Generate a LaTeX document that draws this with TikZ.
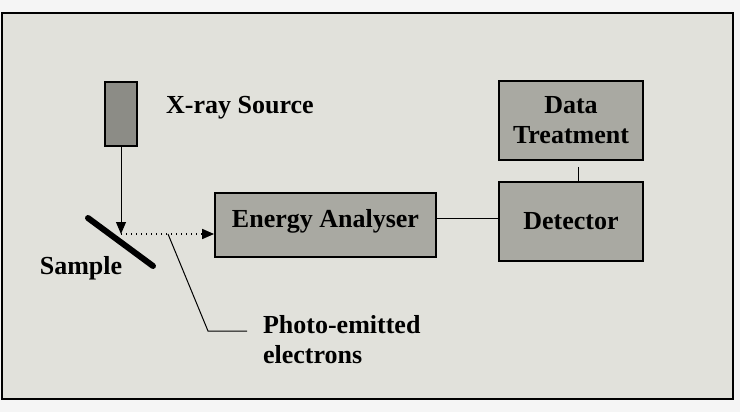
\documentclass[tikz,border=0pt]{standalone}
\usepackage{fontspec}
\setmainfont{Liberation Serif}
\usetikzlibrary{arrows.meta,positioning}
\definecolor{paper}{HTML}{E1E1DB}
\definecolor{boxgray}{HTML}{A9A9A2}
\definecolor{srcgray}{HTML}{8C8C86}

\begin{document}
\begin{tikzpicture}[
    x=0.5pt, y=-0.5pt,
    every node/.style={font=\fontsize{13}{15}\selectfont\bfseries, align=center},
    unit/.style={draw=black, line width=0.9pt, fill=boxgray, inner sep=0pt,
                 minimum width=#1},
    unit/.default=72pt,
    arr/.style={-{Triangle[length=6pt,width=5pt]}, line width=0.5pt},
    link/.style={line width=0.5pt},
    samplebar/.style={line width=3pt, line cap=round},
  ]
  % page and frame
  \useasboundingbox (0,0) rectangle (740,412);
  \fill[white!96!black] (0,0) rectangle (740,412);
  \draw[fill=paper, line width=0.8pt] (2,13) rectangle (733,399);

  % source and sample
  \node[unit=16pt, minimum height=32pt, fill=srcgray] (src) at (121,114) {};
  \node (srclbl) at (240,108) {X-ray Source};
  \coordinate (hit) at (121,234);
  \draw[samplebar] (88,218) -- (153,266);
  \node (smplbl) at (81,268) {Sample};

  % analyser chain
  \node[unit=110.5pt, minimum height=32pt, text depth=7pt] (ana) at (325.5,225) {Energy Analyser};
  \node[unit, minimum height=39.5pt] (det) at (571,221.5) {Detector};
  \node[unit, minimum height=39.5pt] (dat) at (571,120.5) {Data\\Treatment};

  \draw[arr] (src.south) -- (hit);
  \draw[arr, dotted, line width=0.8pt] (hit) -- (hit -| ana.west);
  \draw[link] ([yshift=3.5pt]ana.east) -- ([yshift=3.5pt]ana.east -| det.west);
  \draw[link, shorten <=3pt] ([xshift=3.5pt]dat.south) -- ([xshift=3.5pt]det.north);

  % electrons label
  \coordinate (tap) at (168,234);
  \node[anchor=west, align=left] (elbl) at (256,340) {Photo-emitted\\electrons};
  \draw[link] (tap) -- (208,331) -- (247,331);
\end{tikzpicture}
\end{document}
